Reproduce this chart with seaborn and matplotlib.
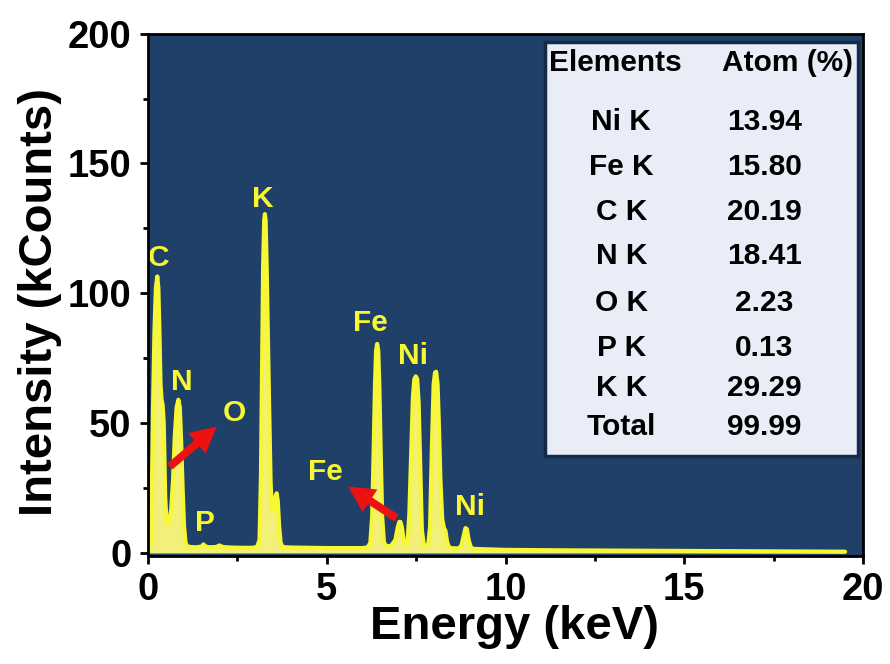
import numpy as np
import pandas as pd
import matplotlib
matplotlib.use("Agg")
import matplotlib.pyplot as plt
from matplotlib.patches import Rectangle
from matplotlib.ticker import MultipleLocator
import seaborn as sns

# EDS spectrum outline (energy in keV, intensity in kCounts)
energy = [
    0.00, 0.04, 0.08, 0.11, 0.14, 0.18, 0.22, 0.26, 0.29, 0.32, 0.35, 0.38,
    0.41, 0.44, 0.46, 0.48, 0.51, 0.55, 0.60, 0.65, 0.70, 0.75, 0.80, 0.85,
    0.89, 0.93, 0.97, 1.01, 1.05, 1.10, 1.20, 1.35, 1.50, 1.55, 1.60, 1.70,
    1.90, 2.00, 2.10, 2.30, 2.60, 2.90, 3.05, 3.12, 3.16, 3.19, 3.22, 3.25,
    3.27, 3.29, 3.32, 3.36, 3.385, 3.41, 3.43, 3.47, 3.52, 3.57, 3.60, 3.63,
    3.67, 3.71, 3.76, 4.00, 4.50, 5.00, 5.50, 6.00, 6.15, 6.22, 6.27, 6.31,
    6.35, 6.38, 6.41, 6.44, 6.47, 6.51, 6.55, 6.60, 6.68, 6.80, 6.92, 6.98,
    7.03, 7.06, 7.10, 7.15, 7.20, 7.26, 7.31, 7.36, 7.41, 7.45, 7.49, 7.53,
    7.57, 7.62, 7.66, 7.71, 7.78, 7.84, 7.89, 7.94, 7.99, 8.03, 8.06, 8.10,
    8.14, 8.18, 8.23, 8.28, 8.32, 8.37, 8.43, 8.55, 8.70, 8.77, 8.83, 8.88,
    8.92, 8.97, 9.03, 9.10, 9.30, 10.0, 11.0, 12.0, 13.5, 15.0, 16.5, 18.0,
    19.0, 19.5,
]
counts = [
    0.5, 1.5, 5.0, 25.0, 55.0, 85.0, 102.0, 106.5, 102.0, 85.0, 65.0, 59.0,
    57.0, 50.0, 35.0, 22.0, 14.0, 11.0, 12.0, 17.0, 28.0, 45.0, 56.0, 59.0,
    56.0, 42.0, 24.0, 10.0, 4.0, 2.5, 2.3, 2.2, 2.5, 3.3, 2.6, 2.2,
    2.3, 2.9, 2.3, 2.1, 2.0, 2.0, 2.3, 5.0, 30.0, 70.0, 110.0, 128.0,
    130.5, 128.0, 110.0, 80.0, 59.0, 40.0, 27.0, 16.0, 17.0, 22.0, 23.0, 20.0,
    10.0, 4.0, 2.3, 2.1, 2.0, 1.9, 1.9, 1.9, 2.2, 4.0, 14.0, 38.0,
    65.0, 78.0, 80.5, 78.0, 65.0, 38.0, 14.0, 4.0, 2.5, 2.8, 5.0, 9.5,
    12.0, 12.0, 10.0, 5.0, 3.0, 4.0, 15.0, 38.0, 60.0, 67.0, 68.0, 67.0,
    58.0, 30.0, 9.0, 3.5, 2.6, 3.5, 10.0, 40.0, 65.0, 69.5, 69.8, 65.0,
    48.0, 28.0, 13.0, 9.5, 8.5, 4.0, 2.0, 1.8, 1.8, 3.0, 6.5, 9.6,
    9.2, 5.0, 2.2, 1.6, 1.5, 1.2, 1.1, 1.0, 0.9, 0.8, 0.7, 0.6,
    0.55, 0.5,
]

# Peak assignments (label, energy, intensity)
peak_labels = ["C", "K", "N", "O", "P", "Fe", "Ni", "Ni", "Fe"]
peak_x = [0.29, 3.22, 0.94, 2.41, 1.59, 6.21, 7.42, 9.01, 4.97]
peak_y = [113.5, 136.5, 66.0, 53.8, 11.4, 88.6, 75.8, 17.8, 31.1]

# Arrows pointing out the weak O and Fe lines (tail -> head)
arrow_tail = [(0.61, 33.3), (6.95, 13.4)]
arrow_head = [(1.92, 48.7), (5.60, 25.6)]

# Quantification table
elements = ["Ni K", "Fe K", "C K", "N K", "O K", "P K", "K K", "Total"]
atom_pct = ["13.94", "15.80", "20.19", "18.41", "2.23", "0.13", "29.29", "99.99"]

x_ticks = [0, 5, 10, 15, 20]
y_ticks = [0, 50, 100, 150, 200]

sns.set_theme(style="ticks")
plt.rcParams["font.family"] = ["Liberation Sans", "DejaVu Sans"]
plt.rcParams["font.weight"] = "bold"

BG = "#1f4068"
LINE = "#f7f733"
FILL = "#f1f17a"

fig = plt.figure(figsize=(8.9, 6.64), dpi=100)
ax = fig.add_axes([148 / 890, 1 - 555.6 / 664, 715 / 890, 522 / 664])
ax.set_facecolor(BG)

df = pd.DataFrame({"Energy": energy, "Intensity": counts})
ax.fill_between(df["Energy"], df["Intensity"], 0, color=FILL, lw=0, zorder=2)
sns.lineplot(data=df, x="Energy", y="Intensity", ax=ax, color=LINE,
             lw=3.0, estimator=None, sort=False, zorder=3)
for ln in ax.lines:
    ln.set_solid_joinstyle("round")

for lab, x, y in zip(peak_labels, peak_x, peak_y):
    ax.text(x, y, lab, color=LINE, fontsize=21.5, fontweight="bold",
            ha="center", va="center", zorder=5)

for tail, head in zip(arrow_tail, arrow_head):
    ax.annotate("", xy=head, xytext=tail,
                arrowprops=dict(arrowstyle="simple,head_length=1.25,head_width=1.3,tail_width=0.38",
                                mutation_scale=15, color="#ee1111", lw=0,
                                shrinkA=0, shrinkB=0),
                zorder=6)

# Table panel
ax.add_patch(Rectangle((0.555, 0.191), 0.438, 0.793, transform=ax.transAxes,
                       facecolor="#e8edf7", edgecolor="#152a48", lw=2.5, zorder=4))
ax.text(0.653, 0.943, "Elements", transform=ax.transAxes, fontsize=21.5,
        fontweight="bold", ha="center", va="center", zorder=5, color="black")
ax.text(0.895, 0.943, "Atom (%)", transform=ax.transAxes, fontsize=21.5,
        fontweight="bold", ha="center", va="center", zorder=5, color="black")
row_y = [0.831, 0.745, 0.659, 0.573, 0.484, 0.398, 0.321, 0.247]
for el, pct, ry in zip(elements, atom_pct, row_y):
    ax.text(0.662, ry, el, transform=ax.transAxes, fontsize=21.5,
            fontweight="bold", ha="center", va="center", zorder=5, color="black")
    ax.text(0.862, ry, pct, transform=ax.transAxes, fontsize=21.5,
            fontweight="bold", ha="center", va="center", zorder=5, color="black")

ax.set_xlim(0, 20)
ax.set_ylim(-1, 200)
ax.set_xticks(x_ticks)
ax.set_yticks(y_ticks)
ax.xaxis.set_minor_locator(MultipleLocator(2.5))
ax.yaxis.set_minor_locator(MultipleLocator(25))
ax.tick_params(axis="both", which="major", direction="out", length=6, width=2.0,
               labelsize=27.5, pad=6, color="black", labelcolor="black")
ax.tick_params(axis="both", which="minor", direction="out", length=3.5, width=2.0,
               color="black")
for lbl in ax.get_xticklabels() + ax.get_yticklabels():
    lbl.set_fontweight("bold")
for sp in ax.spines.values():
    sp.set_visible(True)
    sp.set_linewidth(2.0)
    sp.set_color("black")
    sp.set_zorder(7)

ax.set_xlabel("Energy (keV)", fontsize=34, fontweight="bold", labelpad=0, color="black")
ax.set_ylabel("Intensity (kCounts)", fontsize=34, fontweight="bold", labelpad=4, color="black")
ax.xaxis.set_label_coords(0.513, -0.095)
ax.yaxis.label.set_y(0.485)

fig.savefig("out.png", dpi=100, facecolor="white")
